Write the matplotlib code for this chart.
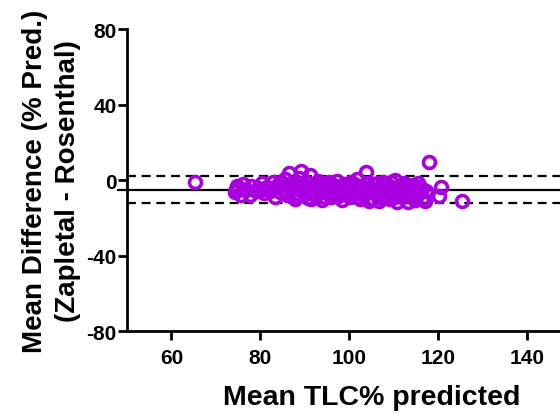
"""
Bland-Altman plot: Zapletal vs Rosenthal TLC % predicted
"""
import numpy as np

import matplotlib

matplotlib.use("Agg")
import matplotlib.pyplot as plt  # noqa:E402

# mean of the two methods (x) and their difference (y)
tlc_mean = [
    65.2, 74.3, 74.8, 75.6, 76.2, 76.5, 77.8, 79.6, 80.3, 80.8,
    81.5, 82.2, 82.8, 83.4, 84.0, 84.5, 85.1, 85.6, 86.0, 86.4,
    86.9, 87.3, 87.8, 88.2, 88.7, 89.1, 89.5, 90.0, 90.3, 90.8,
    91.2, 91.6, 92.0, 92.4, 92.9, 93.3, 93.8, 94.2, 94.6, 95.0,
    95.5, 95.9, 96.3, 96.8, 97.2, 97.6, 98.0, 98.5, 98.9, 99.3,
    99.7, 100.1, 100.5, 100.9, 101.3, 101.7, 102.1, 102.5, 102.9, 103.3,
    103.7, 104.0, 104.4, 104.8, 105.2, 105.6, 106.0, 106.4, 106.8, 107.2,
    107.6, 108.0, 108.4, 108.8, 109.2, 109.6, 110.0, 110.4, 110.8, 111.2,
    111.6, 112.0, 112.4, 112.8, 113.2, 113.6, 114.0, 114.4, 114.8, 115.2,
    115.6, 116.0, 116.5, 117.0, 117.4, 118.1, 120.2, 120.6, 125.5,
    78.0, 79.0, 81.0, 83.0, 84.5, 85.5, 87.0, 88.0, 89.0, 90.5,
    91.5, 92.5, 93.5, 94.5, 95.5, 96.5, 97.5, 98.5, 99.5, 100.5,
    101.5, 102.5, 103.5, 104.5, 105.5, 106.5, 107.5, 108.5, 109.5, 110.5,
    111.5, 112.5, 113.5, 114.5, 115.5, 116.5, 90.0, 95.0, 100.0, 105.0,
    110.0, 102.0, 74.6, 80.0, 86.5, 93.0, 97.0, 107.0, 111.0, 115.0,
]
tlc_diff = [
    -0.9, -6.5, -3.2, -8.0, -2.0, -5.5, -7.8, -4.0, -1.5, -7.0,
    -3.5, -5.8, -0.8, -9.0, -2.5, -6.5, -4.2, 0.5, -8.2, 3.8,
    -5.0, -2.0, -10.0, -6.8, 1.0, 4.8, -3.8, -7.5, -1.2, -9.5,
    2.5, -5.5, -3.0, -8.0, -0.5, -6.2, -10.5, -4.0, -1.8, -7.0,
    -5.0, -9.0, -2.8, -6.0, -0.3, -8.5, -4.5, -10.8, -2.2, -6.8,
    -5.0, -9.2, -1.0, -3.5, -7.5, 0.3, -5.8, -10.0, -3.0, -8.2,
    4.0, -1.5, -6.5, -4.0, -9.8, -2.0, -7.2, -5.0, -11.0, -3.2,
    -0.8, -8.5, -6.0, -2.5, -10.2, -4.5, -7.0, 0.2, -11.5, -3.8,
    -5.8, -9.0, -1.5, -6.8, -11.8, -4.0, -8.0, -2.8, -10.5, -5.5,
    -7.5, -3.5, -9.8, -11.0, -6.0, 9.7, -8.6, -3.5, -11.3,
    -3.0, -6.0, -5.0, -4.0, -1.0, -6.5, -3.5, -8.5, -5.5, -4.5,
    -10.0, -2.0, -3.5, -8.8, -1.0, -4.2, -6.5, -3.8, -8.0, -5.8,
    -2.5, -6.8, -4.8, -11.0, -6.0, -1.8, -9.5, -4.2, -1.0, -5.2,
    -8.2, -3.0, -7.0, -5.0, -1.8, -4.8, -6.0, -3.2, -2.8, -5.3,
    -9.0, -9.0, -4.8, -5.5, -6.0, -4.5, -7.8, -6.5, -4.2, -9.2,
]

# bias and 95% limits of agreement
bias = -5.3
upper_loa = 2.1
lower_loa = -12.2

x_ticks = [60, 80, 100, 120, 140]
y_ticks = [-80, -40, 0, 40, 80]

POINT_COLOR = "#a800e0"


def main():
    plt.rcParams.update(
        {
            "font.family": "Liberation Sans",
            "font.weight": "bold",
            "axes.unicode_minus": False,
        }
    )

    fig = plt.figure(figsize=(5.6, 4.14), dpi=100)
    # the axis runs on past the right edge of the canvas, as in the original
    ax = fig.add_axes([0.2268, 0.198, 0.8725, 0.7295])

    ax.axhline(bias, xmin=-0.018, color="k", linewidth=1.6, clip_on=False, zorder=2)
    for loa in (upper_loa, lower_loa):
        ax.axhline(loa, color="k", linewidth=1.6, linestyle=(0, (4, 2.6)), zorder=2)

    ax.plot(
        np.array(tlc_mean),
        np.array(tlc_diff),
        linestyle="none",
        marker="o",
        markersize=8.6,
        markerfacecolor="none",
        markeredgecolor=POINT_COLOR,
        markeredgewidth=2.6,
        zorder=3,
    )

    ax.set_xlim(50, 160)
    ax.set_ylim(-80, 80)
    ax.set_xticks(x_ticks)
    ax.set_yticks(y_ticks)

    ax.spines["top"].set_visible(False)
    ax.spines["right"].set_visible(False)
    for side in ("left", "bottom"):
        ax.spines[side].set_linewidth(2.0)
    ax.tick_params(width=2.0, length=6.5, labelsize=15)
    ax.tick_params(axis="x", pad=6)
    ax.tick_params(axis="y", pad=1)

    ax.set_xlabel("Mean TLC% predicted", fontsize=20.5, fontweight="bold", labelpad=12)
    ax.set_ylabel(
        "Mean Difference (% Pred.)\n(Zapletal - Rosenthal)",
        fontsize=20,
        fontweight="bold",
        labelpad=4,
        linespacing=1.35,
    )

    fig.savefig("out.png", dpi=100)
    plt.close(fig)


if __name__ == "__main__":
    main()
